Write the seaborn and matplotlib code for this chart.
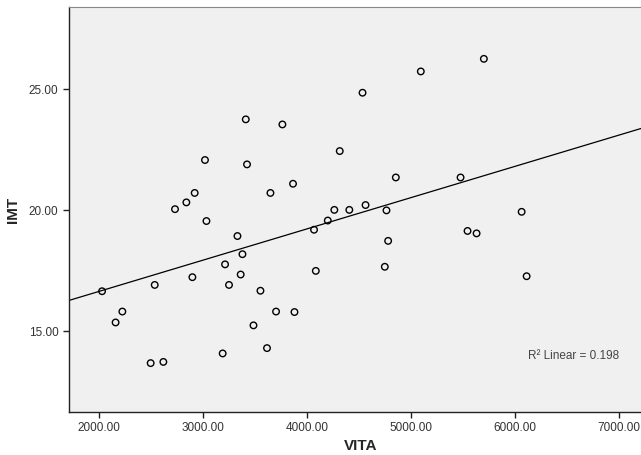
import numpy as np
import pandas as pd
import seaborn as sns
import matplotlib.pyplot as plt

# values
vita = [2030, 2160, 2225, 2497, 2619, 2536, 2731, 2840, 2898, 2920,
        3019, 3033, 3189, 3212, 3250, 3331, 3362, 3379, 3411, 3423,
        3485, 3552, 3615, 3648, 3702, 3763, 3865, 3879, 4067, 4084,
        4199, 4262, 4314, 4406, 4533, 4562, 4747, 4763, 4779, 4853,
        5093, 5475, 5542, 5629, 5699, 6062, 6110]
imt = [16.65, 15.36, 15.81, 13.68, 13.73, 16.91, 20.04, 20.32, 17.23, 20.71,
       22.07, 19.55, 14.08, 17.76, 16.91, 18.93, 17.34, 18.18, 23.75, 21.89,
       15.24, 16.67, 14.30, 20.71, 15.81, 23.54, 21.09, 15.79, 19.19, 17.49,
       19.57, 20.01, 22.44, 20.01, 24.85, 20.21, 17.66, 19.99, 18.73, 21.35,
       25.73, 21.35, 19.14, 19.04, 26.25, 19.93, 17.27]
x_ticks = [2000, 3000, 4000, 5000, 6000, 7000]
y_ticks = [15, 20, 25]
r2_linear = 0.198

df = pd.DataFrame({'VITA': vita, 'IMT': imt})

sns.set_style('white')
plt.rcParams['font.family'] = ['Liberation Sans', 'DejaVu Sans']

fig = plt.figure(figsize=(6.41, 4.55), dpi=100)
ax = fig.add_axes([0.1076, 0.095, 0.8924, 0.889])
ax.set_facecolor('#f0f0f0')
ax.set_xlim(1712, 7209)
ax.set_ylim(11.67, 28.38)

sns.regplot(data=df, x='VITA', y='IMT', ax=ax, ci=None, truncate=False,
            scatter_kws={'s': 22, 'facecolors': 'none', 'edgecolors': 'black',
                         'linewidths': 1.0, 'alpha': 1},
            line_kws={'color': 'black', 'linewidth': 0.9})
ax.set_xlim(1712, 7209)
ax.set_ylim(11.67, 28.38)

ax.set_xticks(x_ticks)
ax.set_yticks(y_ticks)
ax.set_xticklabels([f'{t:.2f}' for t in x_ticks])
ax.set_yticklabels([f'{t:.2f}' for t in y_ticks])
ax.tick_params(axis='both', direction='out', length=4, width=1, colors='#222222',
               labelsize=8.5, labelcolor='#333333', bottom=True, left=True)

for side in ['left', 'bottom']:
    ax.spines[side].set_color('#222222')
    ax.spines[side].set_linewidth(1.0)
ax.spines['top'].set_color('#888888')
ax.spines['right'].set_visible(False)

ax.set_xlabel('VITA', fontsize=11, fontweight='bold', va='center')
ax.set_ylabel('IMT', fontsize=11, fontweight='bold')
ax.xaxis.set_label_coords(0.51, -0.085)
ax.yaxis.set_label_coords(-0.086, 0.5)

ax.text(0.802, 0.138, f'R² Linear = {r2_linear:.3f}', transform=ax.transAxes,
        fontsize=8.5, color='#444444', va='center', ha='left')

fig.savefig('out.png', dpi=100)
